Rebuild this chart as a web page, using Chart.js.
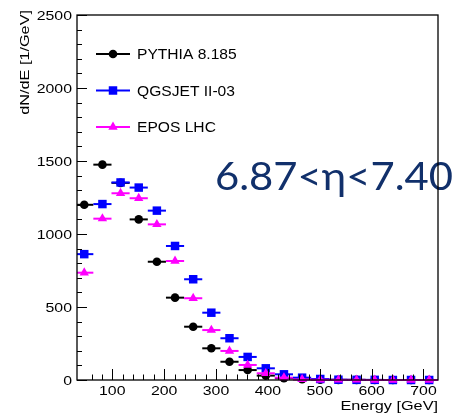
<!DOCTYPE html>
<html>
<head>
<meta charset="utf-8">
<script src="https://cdn.jsdelivr.net/npm/chart.js@4.4.1/dist/chart.umd.min.js"></script>
<style>
  html, body { margin: 0; padding: 0; background: #ffffff; }
  #wrap { width: 459px; height: 418px; }
</style>
</head>
<body>
<div id="wrap"><canvas id="c" width="459" height="418"></canvas></div>
<script>
// Energy bin centres [GeV] and the half width of each bin
const energyGeV = [46, 81, 116, 151, 186, 221, 256, 291, 326, 361, 396, 431, 466, 501, 536, 571, 606, 641, 676, 711];
const halfBinGeV = 17.5;

// dN/dE [1/GeV] per generator
const pythia = [1200, 1475, 1350, 1100, 810, 564, 365, 217, 125, 68, 30, 12, 5, 2, 1, 1, 0, 0, 0, 0];
const qgsjet = [862, 1205, 1353, 1318, 1160, 918, 690, 461, 286, 158, 80, 39, 16, 7, 2, 1, 1, 0, 0, 0];
const epos   = [735, 1105, 1279, 1245, 1066, 815, 560, 342, 199, 103, 46, 16, 4, 2, 1, 1, 0, 0, 0, 0];

const seriesNames = ['PYTHIA 8.185', 'QGSJET II-03', 'EPOS LHC'];
const seriesColors = ['#000000', '#0000ff', '#ff00ff'];
const seriesMarkers = ['circle', 'rect', 'triangle'];

const xTickLabels = ['100', '200', '300', '400', '500', '600', '700'];
const yTickLabels = ['0', '500', '1000', '1500', '2000', '2500'];
const xTitle = 'Energy [GeV]';
const yTitle = 'dN/dE [1/GeV]';
const rangeLabel = '6.87<\u03b7<7.40';

const markerRadius = { circle: 4.3, rect: 6, triangle: 5.4 };

function toPoints(values) {
  return values.map((v, i) => ({ x: energyGeV[i], y: v }));
}

function drawText(ctx, str, x, y, o) {
  ctx.save();
  ctx.translate(x, y);
  if (o.rotate) ctx.rotate(o.rotate);
  ctx.scale(o.sx || 1, 1);
  ctx.font = o.font;
  ctx.fillStyle = o.color || '#000000';
  ctx.textAlign = o.align || 'left';
  ctx.textBaseline = 'alphabetic';
  ctx.fillText(str, 0, 0);
  ctx.restore();
}

function drawMarker(ctx, style, x, y, color) {
  const r = markerRadius[style];
  ctx.save();
  ctx.fillStyle = color;
  ctx.beginPath();
  if (style === 'circle') {
    ctx.arc(x, y, r, 0, Math.PI * 2);
  } else if (style === 'rect') {
    const s = Math.SQRT1_2 * r;
    ctx.rect(x - s, y - s, 2 * s, 2 * s);
  } else {
    let a = 0;
    ctx.moveTo(x + Math.sin(a) * r, y - Math.cos(a) * r);
    a += 2 * Math.PI / 3;
    ctx.lineTo(x + Math.sin(a) * r, y - Math.cos(a) * r);
    a += 2 * Math.PI / 3;
    ctx.lineTo(x + Math.sin(a) * r, y - Math.cos(a) * r);
    ctx.closePath();
  }
  ctx.fill();
  ctx.restore();
}

// Horizontal bin-width bars, drawn under each dataset's markers
const binBars = {
  id: 'binBars',
  beforeDatasetDraw(chart, args) {
    const ds = chart.data.datasets[args.index];
    const xs = chart.scales.x, ys = chart.scales.y, area = chart.chartArea;
    const ctx = chart.ctx;
    ctx.save();
    ctx.beginPath();
    ctx.rect(area.left, area.top - 2, area.right - area.left, area.bottom - area.top + 4);
    ctx.clip();
    ctx.strokeStyle = ds.borderColor;
    ctx.lineWidth = 2;
    ds.data.forEach(p => {
      if (p.y === null) return;
      const py = ys.getPixelForValue(p.y);
      ctx.beginPath();
      ctx.moveTo(xs.getPixelForValue(p.x - halfBinGeV), py);
      ctx.lineTo(xs.getPixelForValue(p.x + halfBinGeV), py);
      ctx.stroke();
    });
    ctx.restore();
  }
};

// Frame, inward ticks, axis labels, legend and the pseudorapidity label
const frame = {
  id: 'frame',
  afterDraw(chart) {
    const ctx = chart.ctx, area = chart.chartArea;
    const xs = chart.scales.x, ys = chart.scales.y;
    const labelFont = '13px "Liberation Sans", Arial, sans-serif';

    // pseudorapidity range
    drawText(ctx, rangeLabel, 215, 189.5, { font: '38px Lato, "Open Sans", sans-serif', color: '#11306b', sx: 1.1 });

    // legend
    seriesNames.forEach((name, i) => {
      const yRow = 54 + i * 36.5;
      ctx.save();
      ctx.strokeStyle = seriesColors[i];
      ctx.lineWidth = 2;
      ctx.beginPath();
      ctx.moveTo(96, yRow);
      ctx.lineTo(130, yRow);
      ctx.stroke();
      ctx.restore();
      drawMarker(ctx, seriesMarkers[i], 113, yRow, seriesColors[i]);
      drawText(ctx, name, 137, yRow + 5.4, { font: '15px "Liberation Sans", Arial, sans-serif', sx: 1.04 });
    });

    // ticks (minor + major), pointing into the frame
    ctx.save();
    ctx.strokeStyle = '#000000';
    ctx.lineWidth = 1;
    xs.ticks.forEach(t => {
      if (t.value % 20 !== 0) return;
      const px = Math.round(xs.getPixelForValue(t.value)) + 0.5;
      const len = t.value % 100 === 0 ? 11 : 5.5;
      ctx.beginPath();
      ctx.moveTo(px, area.bottom);
      ctx.lineTo(px, area.bottom - len);
      ctx.stroke();
    });
    ys.ticks.forEach(t => {
      if (t.value % 100 !== 0) return;
      const py = Math.round(ys.getPixelForValue(t.value)) + 0.5;
      const len = t.value % 500 === 0 ? 10 : 5;
      ctx.beginPath();
      ctx.moveTo(area.left, py);
      ctx.lineTo(area.left + len, py);
      ctx.stroke();
    });
    ctx.restore();

    // frame
    ctx.save();
    ctx.strokeStyle = '#000000';
    ctx.lineWidth = 1.3;
    ctx.strokeRect(area.left, area.top, area.right - area.left, area.bottom - area.top);
    ctx.restore();

    // tick labels
    xTickLabels.forEach(lab => {
      drawText(ctx, lab, xs.getPixelForValue(Number(lab)), 394.6, { font: labelFont, sx: 1.22, align: 'center' });
    });
    yTickLabels.forEach(lab => {
      drawText(ctx, lab, 72, ys.getPixelForValue(Number(lab)) + 4.7, { font: labelFont, sx: 1.22, align: 'right' });
    });

    // axis titles
    drawText(ctx, xTitle, area.right, 410, { font: labelFont, sx: 1.25, align: 'right' });
    drawText(ctx, yTitle, 28.5, 10, { font: labelFont, sx: 1.25, align: 'right', rotate: -Math.PI / 2 });
  }
};

const series = [pythia, qgsjet, epos];

new Chart(document.getElementById('c'), {
  type: 'scatter',
  data: {
    datasets: series.map((vals, i) => ({
      label: seriesNames[i],
      data: toPoints(vals),
      showLine: false,
      order: series.length - i,
      borderColor: seriesColors[i],
      backgroundColor: seriesColors[i],
      pointStyle: seriesMarkers[i],
      pointRadius: markerRadius[seriesMarkers[i]],
      pointHoverRadius: markerRadius[seriesMarkers[i]],
      pointBorderWidth: 0,
      clip: false
    }))
  },
  options: {
    responsive: false,
    animation: false,
    devicePixelRatio: 1,
    layout: { padding: { left: 77, top: 15, right: 21, bottom: 38 } },
    plugins: { legend: { display: false }, tooltip: { enabled: false } },
    events: [],
    scales: {
      x: {
        type: 'linear', display: false, min: 32, max: 728,
        ticks: { stepSize: 20, maxTicksLimit: 50, autoSkip: false }
      },
      y: {
        type: 'linear', display: false, min: 0, max: 2500,
        ticks: { stepSize: 100, maxTicksLimit: 30, autoSkip: false }
      }
    }
  },
  plugins: [binBars, frame]
});
</script>
</body>
</html>
